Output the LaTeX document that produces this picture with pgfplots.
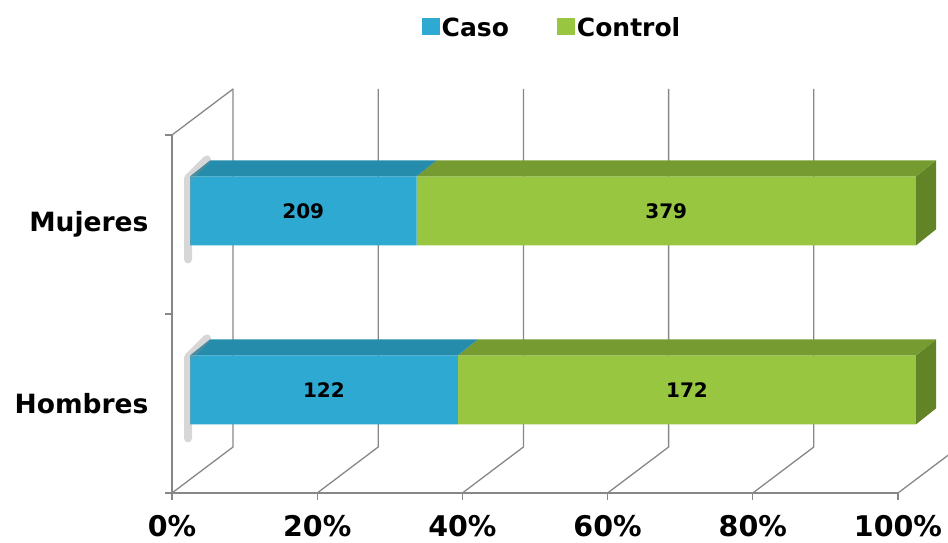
\documentclass[border=0pt]{standalone}
\usepackage{pgfplots}
\pgfplotsset{compat=1.18}
\usepackage{pgfplotstable}
\usepackage{fontspec}
\setmainfont{DejaVu Sans}
\definecolor{gridgray}{RGB}{135,135,135}
\definecolor{casoFront}{RGB}{46,170,210}
\definecolor{casoTop}{RGB}{38,140,172}
\definecolor{ctrlFront}{RGB}{152,198,64}
\definecolor{ctrlTop}{RGB}{118,155,48}
\definecolor{ctrlSide}{RGB}{98,132,38}
% y: 0 = Hombres, 1 = Mujeres; caso/control = share of bar in %, n = counts shown
\pgfplotstableread{
y caso control ncaso ncontrol
0 36.9 63.1 122 172
1 31.2 68.8 209 379
}\datatable
\begin{document}
\begin{tikzpicture}
\useasboundingbox (0,0) rectangle (948pt,543pt);
% ---------- frame (front plane) ----------
\begin{axis}[
  at={(172pt,50pt)}, anchor=south west,
  x=7.26pt, y=179pt,
  xmin=0, xmax=100, ymin=-0.5, ymax=1.5,
  clip=false,
  axis x line*=bottom, axis y line*=left,
  axis line style={draw=gridgray, line width=1.3pt, -},
  tick align=outside, major tick length=7pt,
  tick style={draw=gridgray, line width=1.3pt},
  xtick={0,20,40,60,80,100},
  xticklabels={0\%,20\%,40\%,60\%,80\%,100\%},
  ytick={-0.5,0.5,1.5},
  yticklabels={,,},
  extra y ticks={0,1},
  extra y tick labels={Hombres,Mujeres},
  extra y tick style={major tick length=0pt, tick style={draw=none}},
  xticklabel style={font=\fontsize{28.5}{30}\selectfont\bfseries, yshift=-12pt},
  yticklabel style={font=\fontsize{26.5}{28}\selectfont\bfseries, xshift=-20pt},
]
\pgfplotsinvokeforeach{0,20,40,60,80,100}{
  \draw[gridgray, line width=1.3pt] (axis cs:#1,-0.5) -- ++(61pt,46pt) -- ++(0pt,358pt);
}
\draw[gridgray, line width=1.3pt] (axis cs:0,1.5) -- ++(61pt,46pt);
\end{axis}
% ---------- bars ----------
\begin{axis}[
  at={(190pt,63.6pt)}, anchor=south west,
  x=7.26pt, y=179pt,
  xmin=0, xmax=100, ymin=-0.5, ymax=1.5,
  hide axis, clip=false,
  xbar stacked, bar width=69pt,
  point meta=explicit symbolic,
  nodes near coords,
  every node near coord/.append style={anchor=center, font=\fontsize{20}{22}\selectfont\bfseries, text=black},
  legend style={at={(0.4986,1.261)}, anchor=center, draw=none, fill=none,
    legend columns=2, font=\fontsize{25}{27}\selectfont\bfseries,
    /tikz/every even column/.append style={column sep=46pt}},
  legend image code/.code={\fill[#1] (0pt,-7pt) rectangle (18pt,10pt);},
]
% shadows on the left wall
\draw[black!45, line width=8pt, opacity=0.35, line cap=round, line join=round]
  ([shift={(-2pt,-14pt)}]axis cs:0,-0.1927) -- ([shift={(-2pt,-2pt)}]axis cs:0,0.1927) -- ([shift={(17pt,17pt)}]axis cs:0,0.1927);
\draw[black!45, line width=8pt, opacity=0.35, line cap=round, line join=round]
  ([shift={(-2pt,-14pt)}]axis cs:0,0.8073) -- ([shift={(-2pt,-2pt)}]axis cs:0,1.1927) -- ([shift={(17pt,17pt)}]axis cs:0,1.1927);
% 3D top and side faces
\fill[casoTop] (axis cs:0,0.1927) -- (axis cs:36.9,0.1927) -- ([shift={(20pt,16pt)}]axis cs:36.9,0.1927) -- ([shift={(20pt,16pt)}]axis cs:0,0.1927) -- cycle;
\fill[ctrlTop] (axis cs:36.9,0.1927) -- (axis cs:100,0.1927) -- ([shift={(20pt,16pt)}]axis cs:100,0.1927) -- ([shift={(20pt,16pt)}]axis cs:36.9,0.1927) -- cycle;
\fill[ctrlSide] (axis cs:100,-0.1927) -- (axis cs:100,0.1927) -- ([shift={(20pt,16pt)}]axis cs:100,0.1927) -- ([shift={(20pt,16pt)}]axis cs:100,-0.1927) -- cycle;
\fill[casoTop] (axis cs:0,1.1927) -- (axis cs:31.2,1.1927) -- ([shift={(20pt,16pt)}]axis cs:31.2,1.1927) -- ([shift={(20pt,16pt)}]axis cs:0,1.1927) -- cycle;
\fill[ctrlTop] (axis cs:31.2,1.1927) -- (axis cs:100,1.1927) -- ([shift={(20pt,16pt)}]axis cs:100,1.1927) -- ([shift={(20pt,16pt)}]axis cs:31.2,1.1927) -- cycle;
\fill[ctrlSide] (axis cs:100,0.8073) -- (axis cs:100,1.1927) -- ([shift={(20pt,16pt)}]axis cs:100,1.1927) -- ([shift={(20pt,16pt)}]axis cs:100,0.8073) -- cycle;
\addplot[draw=none, fill=casoFront]
  table[x=caso, y=y, meta=ncaso]{\datatable};
\addlegendentry{Caso}
\addplot[draw=none, fill=ctrlFront]
  table[x=control, y=y, meta=ncontrol]{\datatable};
\addlegendentry{Control}
\end{axis}
\end{tikzpicture}
\end{document}
